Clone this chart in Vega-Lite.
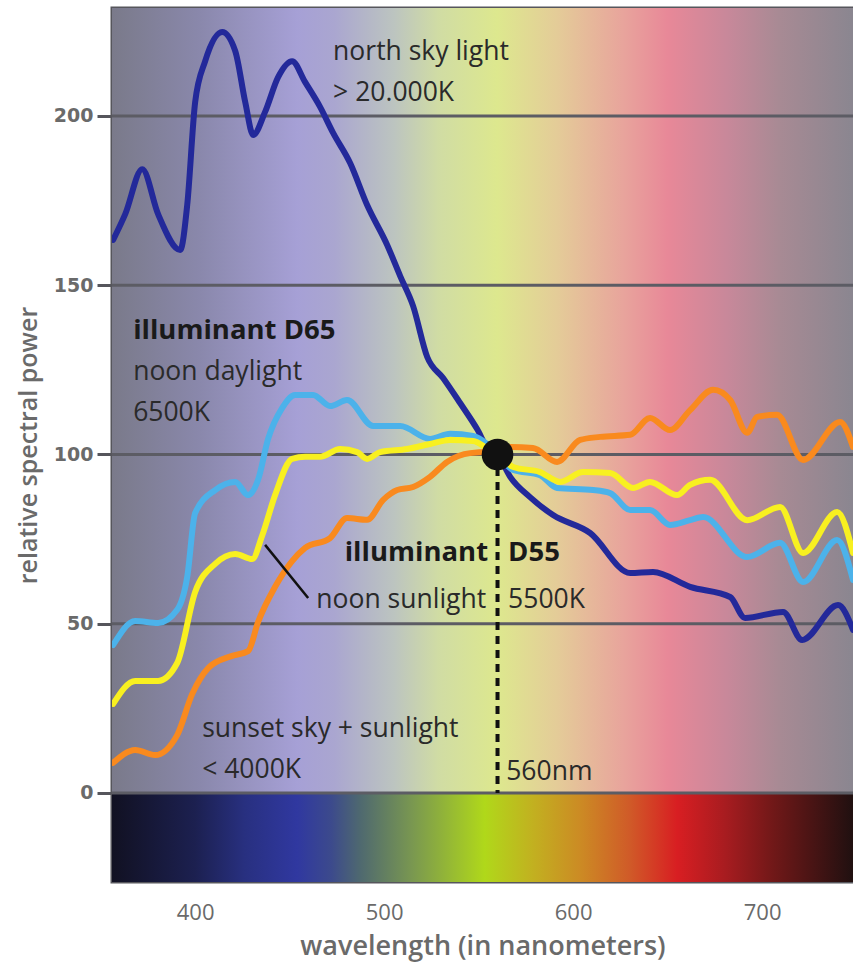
{
  "$schema": "https://vega.github.io/schema/vega-lite/v6.json",
  "width": 741,
  "height": 874,
  "autosize": {"type": "none"},
  "padding": {"left": 112, "top": 8, "right": 0, "bottom": 95},
  "background": "white",
  "config": {
    "view": {"stroke": "#56565c", "strokeWidth": 3}
  },
  "layer": [
    {
      "data": {"values": [{}]},
      "mark": {"type": "rect", "color": {"gradient": "linear", "x1": 0, "y1": 0, "x2": 1, "y2": 0, "stops": [
        {"offset": 0, "color": "#7a7a8a"},
        {"offset": 0.12, "color": "#8a88ac"},
        {"offset": 0.25, "color": "#a6a0d6"},
        {"offset": 0.3, "color": "#aaa6d0"},
        {"offset": 0.38, "color": "#bcc4c0"},
        {"offset": 0.44, "color": "#d0dca4"},
        {"offset": 0.52, "color": "#dde88e"},
        {"offset": 0.6, "color": "#e4cc98"},
        {"offset": 0.69, "color": "#e8a49c"},
        {"offset": 0.75, "color": "#e88898"},
        {"offset": 0.83, "color": "#c8889a"},
        {"offset": 0.9, "color": "#a88a94"},
        {"offset": 1, "color": "#8a8690"}
      ]}},
      "encoding": {
        "x": {"datum": 356, "type": "quantitative", "title": "wavelength (in nanometers)", "scale": {"domain": [356, 748.1], "nice": false, "zero": false},
          "axis": {"values": [400, 500, 600, 700], "grid": false, "domain": false, "ticks": false, "labelFont": "Open Sans", "labelFontSize": 22, "labelColor": "#6a6a6a", "labelPadding": 20, "titleFont": "Open Sans", "titleFontSize": 27, "titleFontWeight": 600, "titleColor": "#6a6a6a", "titlePadding": 10}},
        "x2": {"datum": 748.1},
        "y": {"datum": 0, "type": "quantitative", "title": "relative spectral power", "scale": {"domain": [-26.3, 231.9], "nice": false, "zero": false},
          "axis": {"values": [0, 50, 100, 150, 200], "grid": false, "domain": false, "tickSize": 15, "tickWidth": 3, "tickColor": "#56565c", "labelFont": "DejaVu Sans", "labelFontWeight": "bold", "labelFontSize": 19, "labelColor": "#6a6a6a", "labelPadding": 4, "titleFont": "Open Sans", "titleFontSize": 25, "titleFontWeight": 600, "titleColor": "#6a6a6a", "titlePadding": 12}},
        "y2": {"datum": 231.9}
      }
    },
    {
      "data": {"values": [{}]},
      "mark": {"type": "rect", "color": {"gradient": "linear", "x1": 0, "y1": 0, "x2": 1, "y2": 0, "stops": [
        {"offset": 0, "color": "#111122"},
        {"offset": 0.112, "color": "#1c2050"},
        {"offset": 0.179, "color": "#283080"},
        {"offset": 0.25, "color": "#3038a0"},
        {"offset": 0.296, "color": "#3c4a8c"},
        {"offset": 0.334, "color": "#4e6870"},
        {"offset": 0.406, "color": "#7a9850"},
        {"offset": 0.503, "color": "#b0d81a"},
        {"offset": 0.569, "color": "#c2b020"},
        {"offset": 0.633, "color": "#cc8a24"},
        {"offset": 0.699, "color": "#d05a28"},
        {"offset": 0.763, "color": "#d81e22"},
        {"offset": 0.827, "color": "#a81c20"},
        {"offset": 0.893, "color": "#701818"},
        {"offset": 1, "color": "#201010"}
      ]}},
      "encoding": {
        "x": {"datum": 356, "type": "quantitative", "title": "wavelength (in nanometers)", "scale": {"domain": [356, 748.1], "nice": false, "zero": false},
          "axis": {"values": [400, 500, 600, 700], "grid": false, "domain": false, "ticks": false, "labelFont": "Open Sans", "labelFontSize": 22, "labelColor": "#6a6a6a", "labelPadding": 20, "titleFont": "Open Sans", "titleFontSize": 27, "titleFontWeight": 600, "titleColor": "#6a6a6a", "titlePadding": 10}},
        "x2": {"datum": 748.1},
        "y": {"datum": -26.3, "type": "quantitative", "title": "relative spectral power", "scale": {"domain": [-26.3, 231.9], "nice": false, "zero": false},
          "axis": {"values": [0, 50, 100, 150, 200], "grid": false, "domain": false, "tickSize": 15, "tickWidth": 3, "tickColor": "#56565c", "labelFont": "DejaVu Sans", "labelFontWeight": "bold", "labelFontSize": 19, "labelColor": "#6a6a6a", "labelPadding": 4, "titleFont": "Open Sans", "titleFontSize": 25, "titleFontWeight": 600, "titleColor": "#6a6a6a", "titlePadding": 12}},
        "y2": {"datum": 0}
      }
    },
    {
      "data": {"values": [{"v": 0}, {"v": 50}, {"v": 100}, {"v": 150}, {"v": 200}]},
      "mark": {"type": "rule", "color": "#5c5c64", "strokeWidth": 3},
      "encoding": {
        "y": {"field": "v", "type": "quantitative", "title": "relative spectral power", "scale": {"domain": [-26.3, 231.9], "nice": false, "zero": false},
          "axis": {"values": [0, 50, 100, 150, 200], "grid": false, "domain": false, "tickSize": 15, "tickWidth": 3, "tickColor": "#56565c", "labelFont": "DejaVu Sans", "labelFontWeight": "bold", "labelFontSize": 19, "labelColor": "#6a6a6a", "labelPadding": 4, "titleFont": "Open Sans", "titleFontSize": 25, "titleFontWeight": 600, "titleColor": "#6a6a6a", "titlePadding": 12}}
      }
    },
    {
      "data": {"values": [
        {"series": "north sky", "nm": 356.6, "power": 163.4},
        {"series": "north sky", "nm": 363.0, "power": 171.0},
        {"series": "north sky", "nm": 372.0, "power": 184.3},
        {"series": "north sky", "nm": 380.4, "power": 171.0},
        {"series": "north sky", "nm": 392.1, "power": 160.4},
        {"series": "north sky", "nm": 395.8, "power": 173.7},
        {"series": "north sky", "nm": 400.0, "power": 204.1},
        {"series": "north sky", "nm": 405.3, "power": 216.2},
        {"series": "north sky", "nm": 414.3, "power": 224.8},
        {"series": "north sky", "nm": 421.2, "power": 219.2},
        {"series": "north sky", "nm": 426.5, "power": 204.1},
        {"series": "north sky", "nm": 430.7, "power": 194.4},
        {"series": "north sky", "nm": 437.0, "power": 201.2},
        {"series": "north sky", "nm": 443.9, "power": 211.5},
        {"series": "north sky", "nm": 451.3, "power": 216.2},
        {"series": "north sky", "nm": 458.2, "power": 210.0},
        {"series": "north sky", "nm": 466.1, "power": 202.7},
        {"series": "north sky", "nm": 473.0, "power": 195.0},
        {"series": "north sky", "nm": 482.0, "power": 186.1},
        {"series": "north sky", "nm": 491.0, "power": 173.7},
        {"series": "north sky", "nm": 501.6, "power": 161.9},
        {"series": "north sky", "nm": 508.5, "power": 152.7},
        {"series": "north sky", "nm": 515.3, "power": 143.9},
        {"series": "north sky", "nm": 522.8, "power": 128.8},
        {"series": "north sky", "nm": 531.2, "power": 122.6},
        {"series": "north sky", "nm": 540.2, "power": 115.2},
        {"series": "north sky", "nm": 549.2, "power": 107.5},
        {"series": "north sky", "nm": 555.0, "power": 101.6},
        {"series": "north sky", "nm": 560.0, "power": 100.0},
        {"series": "north sky", "nm": 566.7, "power": 93.4},
        {"series": "north sky", "nm": 577.2, "power": 87.4},
        {"series": "north sky", "nm": 589.4, "power": 82.1},
        {"series": "north sky", "nm": 609.0, "power": 76.8},
        {"series": "north sky", "nm": 630.2, "power": 65.0},
        {"series": "north sky", "nm": 642.3, "power": 65.3},
        {"series": "north sky", "nm": 661.9, "power": 60.9},
        {"series": "north sky", "nm": 683.1, "power": 57.9},
        {"series": "north sky", "nm": 691.0, "power": 51.7},
        {"series": "north sky", "nm": 711.1, "power": 53.5},
        {"series": "north sky", "nm": 721.2, "power": 45.2},
        {"series": "north sky", "nm": 740.2, "power": 55.5},
        {"series": "north sky", "nm": 748.1, "power": 48.2},

        {"series": "D65", "nm": 356.6, "power": 43.7},
        {"series": "D65", "nm": 368.3, "power": 50.8},
        {"series": "D65", "nm": 380.4, "power": 50.2},
        {"series": "D65", "nm": 390.5, "power": 54.1},
        {"series": "D65", "nm": 395.8, "power": 63.8},
        {"series": "D65", "nm": 400.0, "power": 82.7},
        {"series": "D65", "nm": 410.6, "power": 89.5},
        {"series": "D65", "nm": 421.2, "power": 91.9},
        {"series": "D65", "nm": 428.0, "power": 88.0},
        {"series": "D65", "nm": 433.3, "power": 92.5},
        {"series": "D65", "nm": 438.6, "power": 104.6},
        {"series": "D65", "nm": 446.0, "power": 113.7},
        {"series": "D65", "nm": 452.9, "power": 117.6},
        {"series": "D65", "nm": 462.4, "power": 117.6},
        {"series": "D65", "nm": 471.4, "power": 114.3},
        {"series": "D65", "nm": 480.4, "power": 116.1},
        {"series": "D65", "nm": 494.2, "power": 108.4},
        {"series": "D65", "nm": 508.5, "power": 108.4},
        {"series": "D65", "nm": 524.3, "power": 104.6},
        {"series": "D65", "nm": 534.9, "power": 106.1},
        {"series": "D65", "nm": 547.1, "power": 105.5},
        {"series": "D65", "nm": 554.5, "power": 103.1},
        {"series": "D65", "nm": 560.0, "power": 100.0},
        {"series": "D65", "nm": 568.3, "power": 95.4},
        {"series": "D65", "nm": 582.5, "power": 93.9},
        {"series": "D65", "nm": 591.5, "power": 90.1},
        {"series": "D65", "nm": 610.6, "power": 89.5},
        {"series": "D65", "nm": 619.6, "power": 88.6},
        {"series": "D65", "nm": 630.2, "power": 83.6},
        {"series": "D65", "nm": 640.7, "power": 83.6},
        {"series": "D65", "nm": 651.3, "power": 79.2},
        {"series": "D65", "nm": 661.9, "power": 80.6},
        {"series": "D65", "nm": 668.8, "power": 81.5},
        {"series": "D65", "nm": 692.1, "power": 69.7},
        {"series": "D65", "nm": 709.5, "power": 73.9},
        {"series": "D65", "nm": 721.7, "power": 62.3},
        {"series": "D65", "nm": 739.7, "power": 74.7},
        {"series": "D65", "nm": 748.1, "power": 62.9},

        {"series": "D55", "nm": 356.6, "power": 26.3},
        {"series": "D55", "nm": 368.3, "power": 33.1},
        {"series": "D55", "nm": 380.4, "power": 33.1},
        {"series": "D55", "nm": 390.5, "power": 38.4},
        {"series": "D55", "nm": 400.0, "power": 59.4},
        {"series": "D55", "nm": 410.6, "power": 67.7},
        {"series": "D55", "nm": 421.2, "power": 70.6},
        {"series": "D55", "nm": 430.2, "power": 69.1},
        {"series": "D55", "nm": 435.4, "power": 75.9},
        {"series": "D55", "nm": 442.3, "power": 88.0},
        {"series": "D55", "nm": 451.3, "power": 98.7},
        {"series": "D55", "nm": 458.2, "power": 99.3},
        {"series": "D55", "nm": 466.1, "power": 99.3},
        {"series": "D55", "nm": 476.7, "power": 101.6},
        {"series": "D55", "nm": 485.7, "power": 100.7},
        {"series": "D55", "nm": 491.0, "power": 98.7},
        {"series": "D55", "nm": 497.9, "power": 100.7},
        {"series": "D55", "nm": 512.2, "power": 101.6},
        {"series": "D55", "nm": 524.3, "power": 103.1},
        {"series": "D55", "nm": 534.9, "power": 104.3},
        {"series": "D55", "nm": 547.1, "power": 104.0},
        {"series": "D55", "nm": 555.0, "power": 101.6},
        {"series": "D55", "nm": 560.0, "power": 100.0},
        {"series": "D55", "nm": 568.3, "power": 96.3},
        {"series": "D55", "nm": 582.5, "power": 94.8},
        {"series": "D55", "nm": 593.1, "power": 91.9},
        {"series": "D55", "nm": 605.3, "power": 94.8},
        {"series": "D55", "nm": 619.6, "power": 94.5},
        {"series": "D55", "nm": 631.7, "power": 90.1},
        {"series": "D55", "nm": 640.7, "power": 91.9},
        {"series": "D55", "nm": 655.0, "power": 88.0},
        {"series": "D55", "nm": 661.9, "power": 91.0},
        {"series": "D55", "nm": 672.5, "power": 92.5},
        {"series": "D55", "nm": 692.1, "power": 80.6},
        {"series": "D55", "nm": 709.5, "power": 84.5},
        {"series": "D55", "nm": 721.7, "power": 70.9},
        {"series": "D55", "nm": 739.7, "power": 83.0},
        {"series": "D55", "nm": 748.1, "power": 70.9},

        {"series": "sunset", "nm": 356.6, "power": 8.9},
        {"series": "sunset", "nm": 368.3, "power": 12.7},
        {"series": "sunset", "nm": 378.8, "power": 11.2},
        {"series": "sunset", "nm": 390.5, "power": 17.1},
        {"series": "sunset", "nm": 398.4, "power": 29.2},
        {"series": "sunset", "nm": 406.9, "power": 36.9},
        {"series": "sunset", "nm": 419.6, "power": 40.5},
        {"series": "sunset", "nm": 428.0, "power": 41.9},
        {"series": "sunset", "nm": 433.3, "power": 50.5},
        {"series": "sunset", "nm": 442.3, "power": 60.9},
        {"series": "sunset", "nm": 451.3, "power": 68.5},
        {"series": "sunset", "nm": 458.2, "power": 72.4},
        {"series": "sunset", "nm": 471.4, "power": 75.3},
        {"series": "sunset", "nm": 480.4, "power": 81.2},
        {"series": "sunset", "nm": 491.0, "power": 80.7},
        {"series": "sunset", "nm": 499.5, "power": 86.6},
        {"series": "sunset", "nm": 506.9, "power": 89.5},
        {"series": "sunset", "nm": 515.3, "power": 90.4},
        {"series": "sunset", "nm": 524.3, "power": 93.4},
        {"series": "sunset", "nm": 533.3, "power": 97.8},
        {"series": "sunset", "nm": 545.5, "power": 100.4},
        {"series": "sunset", "nm": 555.0, "power": 100.7},
        {"series": "sunset", "nm": 560.0, "power": 100.5},
        {"series": "sunset", "nm": 566.7, "power": 102.2},
        {"series": "sunset", "nm": 578.8, "power": 101.9},
        {"series": "sunset", "nm": 591.5, "power": 97.8},
        {"series": "sunset", "nm": 603.7, "power": 104.3},
        {"series": "sunset", "nm": 614.3, "power": 105.2},
        {"series": "sunset", "nm": 630.2, "power": 105.8},
        {"series": "sunset", "nm": 640.7, "power": 110.8},
        {"series": "sunset", "nm": 651.3, "power": 107.2},
        {"series": "sunset", "nm": 661.9, "power": 113.1},
        {"series": "sunset", "nm": 674.1, "power": 119.1},
        {"series": "sunset", "nm": 683.1, "power": 116.1},
        {"series": "sunset", "nm": 692.1, "power": 106.4},
        {"series": "sunset", "nm": 697.4, "power": 111.1},
        {"series": "sunset", "nm": 707.9, "power": 111.7},
        {"series": "sunset", "nm": 721.7, "power": 98.4},
        {"series": "sunset", "nm": 741.3, "power": 109.6},
        {"series": "sunset", "nm": 748.1, "power": 102.2}
      ]},
      "mark": {"type": "line", "interpolate": "monotone", "strokeWidth": 6, "strokeCap": "round", "strokeJoin": "round", "clip": true},
      "encoding": {
        "x": {"field": "nm", "type": "quantitative", "title": "wavelength (in nanometers)", "scale": {"domain": [356, 748.1], "nice": false, "zero": false},
          "axis": {"values": [400, 500, 600, 700], "grid": false, "domain": false, "ticks": false, "labelFont": "Open Sans", "labelFontSize": 22, "labelColor": "#6a6a6a", "labelPadding": 20, "titleFont": "Open Sans", "titleFontSize": 27, "titleFontWeight": 600, "titleColor": "#6a6a6a", "titlePadding": 10}},
        "y": {"field": "power", "type": "quantitative", "title": "relative spectral power", "scale": {"domain": [-26.3, 231.9], "nice": false, "zero": false},
          "axis": {"values": [0, 50, 100, 150, 200], "grid": false, "domain": false, "tickSize": 15, "tickWidth": 3, "tickColor": "#56565c", "labelFont": "DejaVu Sans", "labelFontWeight": "bold", "labelFontSize": 19, "labelColor": "#6a6a6a", "labelPadding": 4, "titleFont": "Open Sans", "titleFontSize": 25, "titleFontWeight": 600, "titleColor": "#6a6a6a", "titlePadding": 12}},
        "color": {"field": "series", "type": "nominal", "legend": null, "scale": {"domain": ["north sky", "D65", "D55", "sunset"], "range": ["#23299a", "#4cb2ea", "#f8f020", "#f98a1e"]}},
        "order": {"field": "nm", "type": "quantitative"}
      }
    },
    {
      "data": {"values": [{}]},
      "mark": {"type": "rule", "color": "#111111", "strokeWidth": 2.5},
      "encoding": {
        "x": {"datum": 437.0, "type": "quantitative", "title": "wavelength (in nanometers)", "scale": {"domain": [356, 748.1], "nice": false, "zero": false},
          "axis": {"values": [400, 500, 600, 700], "grid": false, "domain": false, "ticks": false, "labelFont": "Open Sans", "labelFontSize": 22, "labelColor": "#6a6a6a", "labelPadding": 20, "titleFont": "Open Sans", "titleFontSize": 27, "titleFontWeight": 600, "titleColor": "#6a6a6a", "titlePadding": 10}},
        "y": {"datum": 73.3, "type": "quantitative", "title": "relative spectral power", "scale": {"domain": [-26.3, 231.9], "nice": false, "zero": false},
          "axis": {"values": [0, 50, 100, 150, 200], "grid": false, "domain": false, "tickSize": 15, "tickWidth": 3, "tickColor": "#56565c", "labelFont": "DejaVu Sans", "labelFontWeight": "bold", "labelFontSize": 19, "labelColor": "#6a6a6a", "labelPadding": 4, "titleFont": "Open Sans", "titleFontSize": 25, "titleFontWeight": 600, "titleColor": "#6a6a6a", "titlePadding": 12}},
        "x2": {"datum": 459.8},
        "y2": {"datum": 57.6}
      }
    },
    {
      "data": {"values": [{}]},
      "mark": {"type": "rule", "color": "#111111", "strokeWidth": 4, "strokeDash": [8, 6]},
      "encoding": {
        "x": {"datum": 560, "type": "quantitative", "title": "wavelength (in nanometers)", "scale": {"domain": [356, 748.1], "nice": false, "zero": false},
          "axis": {"values": [400, 500, 600, 700], "grid": false, "domain": false, "ticks": false, "labelFont": "Open Sans", "labelFontSize": 22, "labelColor": "#6a6a6a", "labelPadding": 20, "titleFont": "Open Sans", "titleFontSize": 27, "titleFontWeight": 600, "titleColor": "#6a6a6a", "titlePadding": 10}},
        "y": {"datum": 96, "type": "quantitative", "title": "relative spectral power", "scale": {"domain": [-26.3, 231.9], "nice": false, "zero": false},
          "axis": {"values": [0, 50, 100, 150, 200], "grid": false, "domain": false, "tickSize": 15, "tickWidth": 3, "tickColor": "#56565c", "labelFont": "DejaVu Sans", "labelFontWeight": "bold", "labelFontSize": 19, "labelColor": "#6a6a6a", "labelPadding": 4, "titleFont": "Open Sans", "titleFontSize": 25, "titleFontWeight": 600, "titleColor": "#6a6a6a", "titlePadding": 12}},
        "y2": {"datum": 0}
      }
    },
    {
      "data": {"values": [{}]},
      "mark": {"type": "point", "filled": true, "color": "#111111", "opacity": 1, "size": 1000},
      "encoding": {
        "x": {"datum": 560, "type": "quantitative", "title": "wavelength (in nanometers)", "scale": {"domain": [356, 748.1], "nice": false, "zero": false},
          "axis": {"values": [400, 500, 600, 700], "grid": false, "domain": false, "ticks": false, "labelFont": "Open Sans", "labelFontSize": 22, "labelColor": "#6a6a6a", "labelPadding": 20, "titleFont": "Open Sans", "titleFontSize": 27, "titleFontWeight": 600, "titleColor": "#6a6a6a", "titlePadding": 10}},
        "y": {"datum": 100, "type": "quantitative", "title": "relative spectral power", "scale": {"domain": [-26.3, 231.9], "nice": false, "zero": false},
          "axis": {"values": [0, 50, 100, 150, 200], "grid": false, "domain": false, "tickSize": 15, "tickWidth": 3, "tickColor": "#56565c", "labelFont": "DejaVu Sans", "labelFontWeight": "bold", "labelFontSize": 19, "labelColor": "#6a6a6a", "labelPadding": 4, "titleFont": "Open Sans", "titleFontSize": 25, "titleFontWeight": 600, "titleColor": "#6a6a6a", "titlePadding": 12}}
      }
    },
    {
      "data": {"values": [
        {"label": "north sky light", "nm": 473.0, "power": 218.9},
        {"label": "> 20.000K", "nm": 473.0, "power": 206.8},
        {"label": "noon daylight", "nm": 367.2, "power": 124.4},
        {"label": "6500K", "nm": 367.2, "power": 112.3},
        {"label": "5500K", "nm": 565.6, "power": 57.0},
        {"label": "sunset sky + sunlight", "nm": 403.7, "power": 18.9},
        {"label": "< 4000K", "nm": 403.7, "power": 6.8},
        {"label": "560nm", "nm": 564.6, "power": 6.2}
      ]},
      "mark": {"type": "text", "align": "left", "baseline": "middle", "font": "Open Sans", "fontSize": 26.5, "color": "#2a2a2a"},
      "encoding": {
        "x": {"field": "nm", "type": "quantitative", "title": "wavelength (in nanometers)", "scale": {"domain": [356, 748.1], "nice": false, "zero": false},
          "axis": {"values": [400, 500, 600, 700], "grid": false, "domain": false, "ticks": false, "labelFont": "Open Sans", "labelFontSize": 22, "labelColor": "#6a6a6a", "labelPadding": 20, "titleFont": "Open Sans", "titleFontSize": 27, "titleFontWeight": 600, "titleColor": "#6a6a6a", "titlePadding": 10}},
        "y": {"field": "power", "type": "quantitative", "title": "relative spectral power", "scale": {"domain": [-26.3, 231.9], "nice": false, "zero": false},
          "axis": {"values": [0, 50, 100, 150, 200], "grid": false, "domain": false, "tickSize": 15, "tickWidth": 3, "tickColor": "#56565c", "labelFont": "DejaVu Sans", "labelFontWeight": "bold", "labelFontSize": 19, "labelColor": "#6a6a6a", "labelPadding": 4, "titleFont": "Open Sans", "titleFontSize": 25, "titleFontWeight": 600, "titleColor": "#6a6a6a", "titlePadding": 12}},
        "text": {"field": "label"}
      }
    },
    {
      "data": {"values": [
        {"label": "noon sunlight", "nm": 554.0, "power": 57.0}
      ]},
      "mark": {"type": "text", "align": "right", "baseline": "middle", "font": "Open Sans", "fontSize": 26.5, "color": "#2a2a2a"},
      "encoding": {
        "x": {"field": "nm", "type": "quantitative", "title": "wavelength (in nanometers)", "scale": {"domain": [356, 748.1], "nice": false, "zero": false},
          "axis": {"values": [400, 500, 600, 700], "grid": false, "domain": false, "ticks": false, "labelFont": "Open Sans", "labelFontSize": 22, "labelColor": "#6a6a6a", "labelPadding": 20, "titleFont": "Open Sans", "titleFontSize": 27, "titleFontWeight": 600, "titleColor": "#6a6a6a", "titlePadding": 10}},
        "y": {"field": "power", "type": "quantitative", "title": "relative spectral power", "scale": {"domain": [-26.3, 231.9], "nice": false, "zero": false},
          "axis": {"values": [0, 50, 100, 150, 200], "grid": false, "domain": false, "tickSize": 15, "tickWidth": 3, "tickColor": "#56565c", "labelFont": "DejaVu Sans", "labelFontWeight": "bold", "labelFontSize": 19, "labelColor": "#6a6a6a", "labelPadding": 4, "titleFont": "Open Sans", "titleFontSize": 25, "titleFontWeight": 600, "titleColor": "#6a6a6a", "titlePadding": 12}},
        "text": {"field": "label"}
      }
    },
    {
      "data": {"values": [
        {"label": "illuminant D65", "nm": 367.2, "power": 136.5},
        {"label": "D55", "nm": 565.6, "power": 70.9}
      ]},
      "mark": {"type": "text", "align": "left", "baseline": "middle", "font": "Open Sans", "fontWeight": "bold", "fontSize": 27.5, "color": "#1a1a1a"},
      "encoding": {
        "x": {"field": "nm", "type": "quantitative", "title": "wavelength (in nanometers)", "scale": {"domain": [356, 748.1], "nice": false, "zero": false},
          "axis": {"values": [400, 500, 600, 700], "grid": false, "domain": false, "ticks": false, "labelFont": "Open Sans", "labelFontSize": 22, "labelColor": "#6a6a6a", "labelPadding": 20, "titleFont": "Open Sans", "titleFontSize": 27, "titleFontWeight": 600, "titleColor": "#6a6a6a", "titlePadding": 10}},
        "y": {"field": "power", "type": "quantitative", "title": "relative spectral power", "scale": {"domain": [-26.3, 231.9], "nice": false, "zero": false},
          "axis": {"values": [0, 50, 100, 150, 200], "grid": false, "domain": false, "tickSize": 15, "tickWidth": 3, "tickColor": "#56565c", "labelFont": "DejaVu Sans", "labelFontWeight": "bold", "labelFontSize": 19, "labelColor": "#6a6a6a", "labelPadding": 4, "titleFont": "Open Sans", "titleFontSize": 25, "titleFontWeight": 600, "titleColor": "#6a6a6a", "titlePadding": 12}},
        "text": {"field": "label"}
      }
    },
    {
      "data": {"values": [
        {"label": "illuminant", "nm": 555.0, "power": 70.9}
      ]},
      "mark": {"type": "text", "align": "right", "baseline": "middle", "font": "Open Sans", "fontWeight": "bold", "fontSize": 27.5, "color": "#1a1a1a"},
      "encoding": {
        "x": {"field": "nm", "type": "quantitative", "title": "wavelength (in nanometers)", "scale": {"domain": [356, 748.1], "nice": false, "zero": false},
          "axis": {"values": [400, 500, 600, 700], "grid": false, "domain": false, "ticks": false, "labelFont": "Open Sans", "labelFontSize": 22, "labelColor": "#6a6a6a", "labelPadding": 20, "titleFont": "Open Sans", "titleFontSize": 27, "titleFontWeight": 600, "titleColor": "#6a6a6a", "titlePadding": 10}},
        "y": {"field": "power", "type": "quantitative", "title": "relative spectral power", "scale": {"domain": [-26.3, 231.9], "nice": false, "zero": false},
          "axis": {"values": [0, 50, 100, 150, 200], "grid": false, "domain": false, "tickSize": 15, "tickWidth": 3, "tickColor": "#56565c", "labelFont": "DejaVu Sans", "labelFontWeight": "bold", "labelFontSize": 19, "labelColor": "#6a6a6a", "labelPadding": 4, "titleFont": "Open Sans", "titleFontSize": 25, "titleFontWeight": 600, "titleColor": "#6a6a6a", "titlePadding": 12}},
        "text": {"field": "label"}
      }
    }
  ]
}
